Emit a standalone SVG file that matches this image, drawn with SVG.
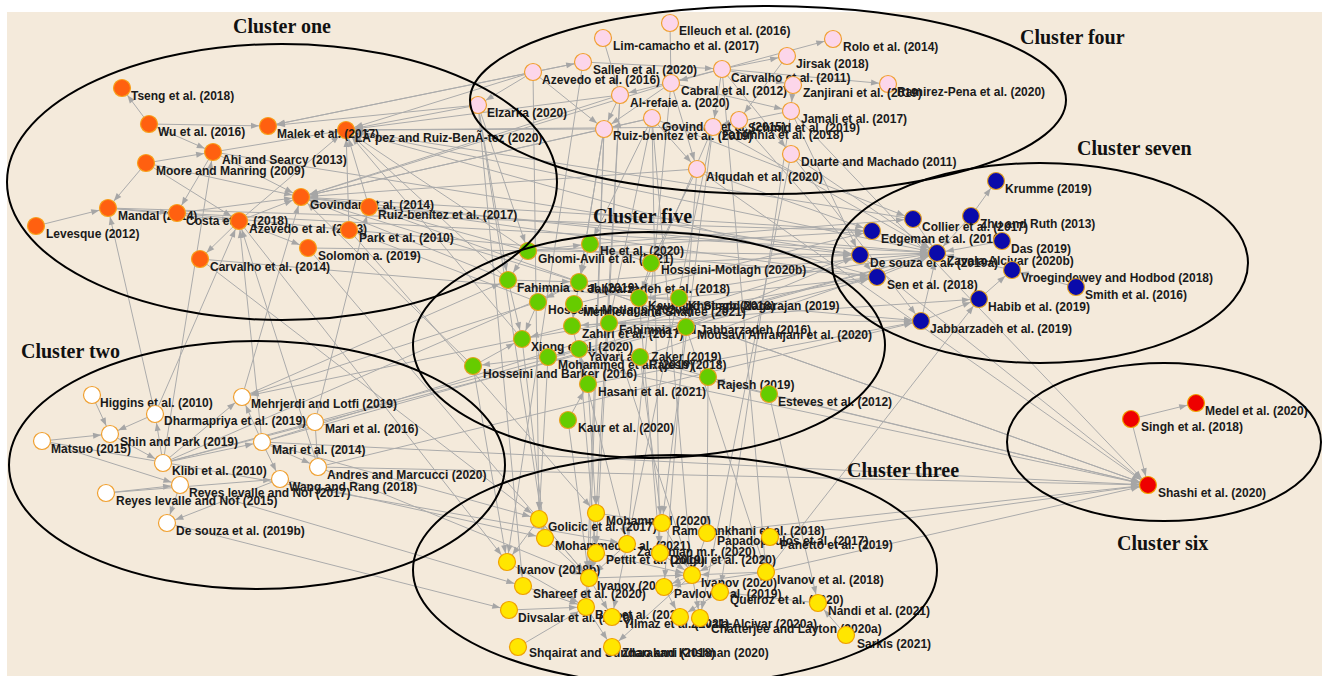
<svg xmlns="http://www.w3.org/2000/svg" width="1322" height="676" viewBox="0 0 1322 676">
<style>
.e line{stroke:#ababab;stroke-width:1;marker-end:url(#ah)}
.n circle{stroke-width:1.2}
.n text{font-family:"Liberation Sans",Arial,sans-serif;font-weight:bold;font-size:12px;fill:#1a1a1a}
.c1 circle{fill:#FF6010;stroke:#F7A11B}
.c2 circle{fill:#FFFFFF;stroke:#F0A030}
.c3 circle{fill:#FFE600;stroke:#F0A000}
.c4 circle{fill:#FCD6EA;stroke:#F0A030}
.c5 circle{fill:#66CC00;stroke:#E8A020}
.c6 circle{fill:#EE0000;stroke:#F0A000}
.c7 circle{fill:#0A0AAA;stroke:#E0A020}
.cl ellipse{fill:none;stroke:#000;stroke-width:2}
.t{font-family:"Liberation Serif","Times New Roman",serif;font-weight:bold;font-size:20px;fill:#111}
</style>
<defs>
<marker id="ah" markerUnits="userSpaceOnUse" markerWidth="8" markerHeight="6" refX="17" refY="3" orient="auto" overflow="visible"><path d="M0,0L8,3L0,6z" fill="#a6a6a6"/></marker>
</defs>
<rect width="1322" height="676" fill="#fff"/>
<rect x="7" y="12" width="1315" height="664" fill="#F4EADB"/>
<g id="connectors" class="e">
<line x1="149" y1="124" x2="122" y2="88"/>
<line x1="146" y1="163" x2="213" y2="152"/>
<line x1="146" y1="163" x2="108" y2="208"/>
<line x1="36" y1="226" x2="108" y2="208"/>
<line x1="108" y1="208" x2="177" y2="213"/>
<line x1="213" y1="152" x2="177" y2="213"/>
<line x1="146" y1="163" x2="239" y2="221"/>
<line x1="146" y1="163" x2="301" y2="197"/>
<line x1="239" y1="221" x2="200" y2="259"/>
<line x1="239" y1="221" x2="308" y2="248"/>
<line x1="239" y1="221" x2="301" y2="197"/>
<line x1="239" y1="221" x2="346" y2="130"/>
<line x1="213" y1="152" x2="346" y2="130"/>
<line x1="149" y1="124" x2="268" y2="126"/>
<line x1="177" y1="213" x2="301" y2="197"/>
<line x1="349" y1="230" x2="346" y2="130"/>
<line x1="369" y1="207" x2="346" y2="130"/>
<line x1="149" y1="124" x2="213" y2="152"/>
<line x1="108" y1="208" x2="239" y2="221"/>
<line x1="177" y1="213" x2="349" y2="230"/>
<line x1="213" y1="152" x2="301" y2="197"/>
<line x1="155" y1="414" x2="108" y2="208"/>
<line x1="163" y1="463" x2="213" y2="152"/>
<line x1="155" y1="414" x2="239" y2="221"/>
<line x1="262" y1="442" x2="239" y2="221"/>
<line x1="318" y1="467" x2="239" y2="221"/>
<line x1="315" y1="422" x2="369" y2="207"/>
<line x1="242" y1="397" x2="301" y2="197"/>
<line x1="478" y1="105" x2="268" y2="126"/>
<line x1="533" y1="72" x2="268" y2="126"/>
<line x1="478" y1="105" x2="346" y2="130"/>
<line x1="604" y1="129" x2="346" y2="130"/>
<line x1="620" y1="95" x2="346" y2="130"/>
<line x1="652" y1="118" x2="301" y2="197"/>
<line x1="604" y1="129" x2="301" y2="197"/>
<line x1="671" y1="83" x2="301" y2="197"/>
<line x1="620" y1="95" x2="301" y2="197"/>
<line x1="583" y1="62" x2="268" y2="126"/>
<line x1="713" y1="127" x2="346" y2="130"/>
<line x1="697" y1="169" x2="301" y2="197"/>
<line x1="533" y1="72" x2="346" y2="130"/>
<line x1="528" y1="251" x2="346" y2="130"/>
<line x1="508" y1="280" x2="346" y2="130"/>
<line x1="522" y1="339" x2="346" y2="130"/>
<line x1="508" y1="280" x2="301" y2="197"/>
<line x1="579" y1="282" x2="301" y2="197"/>
<line x1="473" y1="366" x2="301" y2="197"/>
<line x1="528" y1="251" x2="369" y2="207"/>
<line x1="538" y1="302" x2="349" y2="230"/>
<line x1="860" y1="255" x2="301" y2="197"/>
<line x1="872" y1="231" x2="301" y2="197"/>
<line x1="877" y1="277" x2="346" y2="130"/>
<line x1="913" y1="219" x2="346" y2="130"/>
<line x1="369" y1="207" x2="937" y2="253"/>
<line x1="349" y1="230" x2="877" y2="277"/>
<line x1="308" y1="248" x2="860" y2="255"/>
<line x1="200" y1="259" x2="921" y2="321"/>
<line x1="177" y1="213" x2="937" y2="253"/>
<line x1="308" y1="248" x2="589" y2="578"/>
<line x1="200" y1="259" x2="539" y2="519"/>
<line x1="349" y1="230" x2="596" y2="513"/>
<line x1="369" y1="207" x2="1148" y2="485"/>
<line x1="239" y1="221" x2="507" y2="562"/>
<line x1="533" y1="72" x2="583" y2="62"/>
<line x1="533" y1="72" x2="478" y2="105"/>
<line x1="722" y1="69" x2="787" y2="56"/>
<line x1="722" y1="69" x2="833" y2="39"/>
<line x1="722" y1="69" x2="671" y2="83"/>
<line x1="722" y1="69" x2="793" y2="85"/>
<line x1="722" y1="69" x2="888" y2="84"/>
<line x1="793" y1="85" x2="791" y2="111"/>
<line x1="670" y1="23" x2="671" y2="83"/>
<line x1="583" y1="62" x2="722" y2="69"/>
<line x1="603" y1="38" x2="620" y2="95"/>
<line x1="722" y1="69" x2="620" y2="95"/>
<line x1="620" y1="95" x2="604" y2="129"/>
<line x1="671" y1="83" x2="604" y2="129"/>
<line x1="652" y1="118" x2="604" y2="129"/>
<line x1="722" y1="69" x2="713" y2="127"/>
<line x1="787" y1="56" x2="739" y2="120"/>
<line x1="671" y1="83" x2="791" y2="111"/>
<line x1="722" y1="69" x2="791" y2="154"/>
<line x1="652" y1="118" x2="697" y2="169"/>
<line x1="533" y1="72" x2="604" y2="129"/>
<line x1="739" y1="120" x2="713" y2="127"/>
<line x1="791" y1="111" x2="713" y2="127"/>
<line x1="671" y1="83" x2="697" y2="169"/>
<line x1="791" y1="154" x2="937" y2="253"/>
<line x1="791" y1="111" x2="860" y2="255"/>
<line x1="713" y1="127" x2="937" y2="253"/>
<line x1="697" y1="169" x2="872" y2="231"/>
<line x1="652" y1="118" x2="913" y2="219"/>
<line x1="739" y1="120" x2="877" y2="277"/>
<line x1="604" y1="129" x2="579" y2="282"/>
<line x1="652" y1="118" x2="590" y2="244"/>
<line x1="697" y1="169" x2="651" y2="263"/>
<line x1="604" y1="129" x2="589" y2="578"/>
<line x1="652" y1="118" x2="692" y2="575"/>
<line x1="620" y1="95" x2="596" y2="513"/>
<line x1="713" y1="127" x2="662" y2="523"/>
<line x1="697" y1="169" x2="664" y2="587"/>
<line x1="671" y1="83" x2="627" y2="544"/>
<line x1="533" y1="72" x2="539" y2="519"/>
<line x1="478" y1="105" x2="545" y2="538"/>
<line x1="604" y1="129" x2="586" y2="607"/>
<line x1="652" y1="118" x2="660" y2="553"/>
<line x1="722" y1="69" x2="766" y2="572"/>
<line x1="791" y1="111" x2="720" y2="592"/>
<line x1="791" y1="154" x2="700" y2="618"/>
<line x1="620" y1="95" x2="596" y2="553"/>
<line x1="583" y1="62" x2="507" y2="562"/>
<line x1="478" y1="105" x2="523" y2="586"/>
<line x1="713" y1="127" x2="612" y2="617"/>
<line x1="697" y1="169" x2="1148" y2="485"/>
<line x1="791" y1="111" x2="1148" y2="485"/>
<line x1="791" y1="154" x2="921" y2="321"/>
<line x1="652" y1="118" x2="609" y2="323"/>
<line x1="604" y1="129" x2="572" y2="326"/>
<line x1="713" y1="127" x2="639" y2="298"/>
<line x1="478" y1="105" x2="528" y2="251"/>
<line x1="478" y1="105" x2="508" y2="280"/>
<line x1="590" y1="244" x2="579" y2="282"/>
<line x1="528" y1="251" x2="508" y2="280"/>
<line x1="651" y1="263" x2="639" y2="298"/>
<line x1="579" y1="282" x2="538" y2="302"/>
<line x1="508" y1="280" x2="522" y2="339"/>
<line x1="538" y1="302" x2="522" y2="339"/>
<line x1="572" y1="326" x2="522" y2="339"/>
<line x1="574" y1="304" x2="572" y2="326"/>
<line x1="609" y1="323" x2="572" y2="326"/>
<line x1="579" y1="349" x2="548" y2="357"/>
<line x1="588" y1="384" x2="579" y2="349"/>
<line x1="568" y1="420" x2="588" y2="384"/>
<line x1="708" y1="377" x2="640" y2="357"/>
<line x1="769" y1="394" x2="708" y2="377"/>
<line x1="686" y1="327" x2="609" y2="323"/>
<line x1="679" y1="298" x2="639" y2="298"/>
<line x1="473" y1="366" x2="522" y2="339"/>
<line x1="528" y1="251" x2="590" y2="244"/>
<line x1="508" y1="280" x2="579" y2="282"/>
<line x1="651" y1="263" x2="590" y2="244"/>
<line x1="548" y1="357" x2="473" y2="366"/>
<line x1="579" y1="282" x2="937" y2="253"/>
<line x1="651" y1="263" x2="860" y2="255"/>
<line x1="639" y1="298" x2="937" y2="253"/>
<line x1="679" y1="298" x2="877" y2="277"/>
<line x1="686" y1="327" x2="860" y2="255"/>
<line x1="609" y1="323" x2="921" y2="321"/>
<line x1="572" y1="326" x2="979" y2="299"/>
<line x1="574" y1="304" x2="872" y2="231"/>
<line x1="640" y1="357" x2="937" y2="253"/>
<line x1="522" y1="339" x2="877" y2="277"/>
<line x1="588" y1="384" x2="921" y2="321"/>
<line x1="528" y1="251" x2="872" y2="231"/>
<line x1="590" y1="244" x2="913" y2="219"/>
<line x1="579" y1="282" x2="1148" y2="485"/>
<line x1="579" y1="349" x2="1148" y2="485"/>
<line x1="769" y1="394" x2="1148" y2="485"/>
<line x1="548" y1="357" x2="1148" y2="485"/>
<line x1="588" y1="384" x2="596" y2="513"/>
<line x1="568" y1="420" x2="589" y2="578"/>
<line x1="579" y1="349" x2="596" y2="553"/>
<line x1="640" y1="357" x2="662" y2="523"/>
<line x1="548" y1="357" x2="539" y2="519"/>
<line x1="522" y1="339" x2="545" y2="538"/>
<line x1="473" y1="366" x2="507" y2="562"/>
<line x1="609" y1="323" x2="692" y2="575"/>
<line x1="572" y1="326" x2="627" y2="544"/>
<line x1="708" y1="377" x2="707" y2="533"/>
<line x1="686" y1="327" x2="766" y2="572"/>
<line x1="769" y1="394" x2="818" y2="603"/>
<line x1="639" y1="298" x2="660" y2="553"/>
<line x1="92" y1="395" x2="110" y2="434"/>
<line x1="155" y1="414" x2="110" y2="434"/>
<line x1="42" y1="441" x2="110" y2="434"/>
<line x1="163" y1="463" x2="155" y2="414"/>
<line x1="163" y1="463" x2="262" y2="442"/>
<line x1="163" y1="463" x2="242" y2="397"/>
<line x1="262" y1="442" x2="242" y2="397"/>
<line x1="262" y1="442" x2="280" y2="479"/>
<line x1="262" y1="442" x2="318" y2="467"/>
<line x1="106" y1="493" x2="180" y2="485"/>
<line x1="180" y1="485" x2="167" y2="523"/>
<line x1="106" y1="493" x2="280" y2="479"/>
<line x1="280" y1="479" x2="167" y2="523"/>
<line x1="315" y1="422" x2="318" y2="467"/>
<line x1="110" y1="434" x2="163" y2="463"/>
<line x1="42" y1="441" x2="180" y2="485"/>
<line x1="163" y1="463" x2="315" y2="422"/>
<line x1="262" y1="442" x2="860" y2="255"/>
<line x1="262" y1="442" x2="937" y2="253"/>
<line x1="163" y1="463" x2="877" y2="277"/>
<line x1="315" y1="422" x2="937" y2="253"/>
<line x1="242" y1="397" x2="508" y2="280"/>
<line x1="318" y1="467" x2="921" y2="321"/>
<line x1="163" y1="463" x2="579" y2="282"/>
<line x1="262" y1="442" x2="539" y2="519"/>
<line x1="318" y1="467" x2="589" y2="578"/>
<line x1="280" y1="479" x2="545" y2="538"/>
<line x1="262" y1="442" x2="1148" y2="485"/>
<line x1="318" y1="467" x2="1148" y2="485"/>
<line x1="538" y1="302" x2="242" y2="397"/>
<line x1="522" y1="339" x2="242" y2="397"/>
<line x1="42" y1="441" x2="627" y2="544"/>
<line x1="167" y1="523" x2="509" y2="610"/>
<line x1="180" y1="485" x2="523" y2="586"/>
<line x1="596" y1="513" x2="589" y2="578"/>
<line x1="539" y1="519" x2="589" y2="578"/>
<line x1="545" y1="538" x2="589" y2="578"/>
<line x1="662" y1="523" x2="692" y2="575"/>
<line x1="707" y1="533" x2="692" y2="575"/>
<line x1="770" y1="537" x2="692" y2="575"/>
<line x1="627" y1="544" x2="589" y2="578"/>
<line x1="596" y1="553" x2="589" y2="578"/>
<line x1="660" y1="553" x2="692" y2="575"/>
<line x1="507" y1="562" x2="586" y2="607"/>
<line x1="523" y1="586" x2="586" y2="607"/>
<line x1="509" y1="610" x2="586" y2="607"/>
<line x1="589" y1="578" x2="586" y2="607"/>
<line x1="692" y1="575" x2="664" y2="587"/>
<line x1="766" y1="572" x2="692" y2="575"/>
<line x1="720" y1="592" x2="680" y2="617"/>
<line x1="664" y1="587" x2="680" y2="617"/>
<line x1="692" y1="575" x2="700" y2="618"/>
<line x1="846" y1="635" x2="818" y2="603"/>
<line x1="518" y1="647" x2="586" y2="607"/>
<line x1="692" y1="575" x2="612" y2="647"/>
<line x1="586" y1="607" x2="612" y2="647"/>
<line x1="589" y1="578" x2="612" y2="617"/>
<line x1="539" y1="519" x2="507" y2="562"/>
<line x1="596" y1="513" x2="662" y2="523"/>
<line x1="545" y1="538" x2="539" y2="519"/>
<line x1="589" y1="578" x2="692" y2="575"/>
<line x1="596" y1="553" x2="692" y2="575"/>
<line x1="818" y1="603" x2="720" y2="592"/>
<line x1="766" y1="572" x2="664" y2="587"/>
<line x1="770" y1="537" x2="1148" y2="485"/>
<line x1="707" y1="533" x2="1148" y2="485"/>
<line x1="766" y1="572" x2="1148" y2="485"/>
<line x1="921" y1="321" x2="937" y2="253"/>
<line x1="766" y1="572" x2="979" y2="299"/>
<line x1="971" y1="216" x2="996" y2="181"/>
<line x1="1002" y1="241" x2="937" y2="253"/>
<line x1="1012" y1="270" x2="937" y2="253"/>
<line x1="1076" y1="287" x2="1012" y2="270"/>
<line x1="979" y1="299" x2="1012" y2="270"/>
<line x1="877" y1="277" x2="937" y2="253"/>
<line x1="872" y1="231" x2="937" y2="253"/>
<line x1="913" y1="219" x2="937" y2="253"/>
<line x1="860" y1="255" x2="937" y2="253"/>
<line x1="971" y1="216" x2="937" y2="253"/>
<line x1="921" y1="321" x2="979" y2="299"/>
<line x1="860" y1="255" x2="1148" y2="485"/>
<line x1="1131" y1="419" x2="1196" y2="403"/>
<line x1="1131" y1="419" x2="1148" y2="485"/>
<line x1="301" y1="197" x2="877" y2="277"/>
<line x1="346" y1="130" x2="937" y2="253"/>
<line x1="213" y1="152" x2="860" y2="255"/>
<line x1="108" y1="208" x2="872" y2="231"/>
</g>
<g id="nodes" class="n">
<g id="n-tseng" class="c1"><circle cx="122" cy="88" r="8.5"/><text x="131" y="100">Tseng et al. (2018)</text></g>
<g id="n-wu" class="c1"><circle cx="149" cy="124" r="8.5"/><text x="158" y="136">Wu et al. (2016)</text></g>
<g id="n-lopez" class="c1"><circle cx="346" cy="130" r="8.5"/><text x="355" y="142">LÃ³pez and Ruiz-BenÃ-tez (2020)</text></g>
<g id="n-malek" class="c1"><circle cx="268" cy="126" r="8.5"/><text x="277" y="138">Malek et al. (2017)</text></g>
<g id="n-ahi" class="c1"><circle cx="213" cy="152" r="8.5"/><text x="222" y="164">Ahi and Searcy (2013)</text></g>
<g id="n-moore" class="c1"><circle cx="146" cy="163" r="8.5"/><text x="156" y="175">Moore and Manring (2009)</text></g>
<g id="n-gov14" class="c1"><circle cx="301" cy="197" r="8.5"/><text x="310" y="209">Govindan et al. (2014)</text></g>
<g id="n-ruiz17" class="c1"><circle cx="369" cy="207" r="8.5"/><text x="378" y="219">Ruiz-benitez et al. (2017)</text></g>
<g id="n-mandal" class="c1"><circle cx="108" cy="208" r="8.5"/><text x="118" y="220">Mandal (2014)</text></g>
<g id="n-costa" class="c1"><circle cx="177" cy="213" r="8.5"/><text x="186" y="225">Costa et al. (2018)</text></g>
<g id="n-aze13" class="c1"><circle cx="239" cy="221" r="8.5"/><text x="249" y="233">Azevedo et al. (2013)</text></g>
<g id="n-park" class="c1"><circle cx="349" cy="230" r="8.5"/><text x="359" y="242">Park et al. (2010)</text></g>
<g id="n-leves" class="c1"><circle cx="36" cy="226" r="8.5"/><text x="46" y="238">Levesque (2012)</text></g>
<g id="n-solo" class="c1"><circle cx="308" cy="248" r="8.5"/><text x="318" y="260">Solomon a. (2019)</text></g>
<g id="n-carv14" class="c1"><circle cx="200" cy="259" r="8.5"/><text x="210" y="271">Carvalho et al. (2014)</text></g>

<g id="n-elleuch" class="c4"><circle cx="670" cy="23" r="8.5"/><text x="679" y="35">Elleuch et al. (2016)</text></g>
<g id="n-limc" class="c4"><circle cx="603" cy="38" r="8.5"/><text x="613" y="50">Lim-camacho et al. (2017)</text></g>
<g id="n-rolo" class="c4"><circle cx="833" cy="39" r="8.5"/><text x="843" y="51">Rolo et al. (2014)</text></g>
<g id="n-jirsak" class="c4"><circle cx="787" cy="56" r="8.5"/><text x="796" y="68">Jirsak (2018)</text></g>
<g id="n-salleh" class="c4"><circle cx="583" cy="62" r="8.5"/><text x="593" y="74">Salleh et al. (2020)</text></g>
<g id="n-aze16" class="c4"><circle cx="533" cy="72" r="8.5"/><text x="542" y="84">Azevedo et al. (2016)</text></g>
<g id="n-carv11" class="c4"><circle cx="722" cy="69" r="8.5"/><text x="731" y="82">Carvalho et al. (2011)</text></g>
<g id="n-cabral" class="c4"><circle cx="671" cy="83" r="8.5"/><text x="681" y="95">Cabral et al. (2012)</text></g>
<g id="n-ramirez" class="c4"><circle cx="888" cy="84" r="8.5"/><text x="897" y="96">Ramirez-Pena et al. (2020)</text></g>
<g id="n-zanj" class="c4"><circle cx="793" cy="85" r="8.5"/><text x="803" y="97">Zanjirani et al. (2019)</text></g>
<g id="n-alref" class="c4"><circle cx="620" cy="95" r="8.5"/><text x="630" y="107">Al-refaie a. (2020)</text></g>
<g id="n-elzarka" class="c4"><circle cx="478" cy="105" r="8.5"/><text x="487" y="117">Elzarka (2020)</text></g>
<g id="n-jamali" class="c4"><circle cx="791" cy="111" r="8.5"/><text x="801" y="123">Jamali et al. (2017)</text></g>
<g id="n-gov15" class="c4"><circle cx="652" cy="118" r="8.5"/><text x="662" y="131">Govindan et al. (2015)</text></g>
<g id="n-ruiz19" class="c4"><circle cx="604" cy="129" r="8.5"/><text x="613" y="140">Ruiz-benitez et al. (2019)</text></g>
<g id="n-fah18" class="c4"><circle cx="713" cy="127" r="8.5"/><text x="722" y="139">Fahimnia et al. (2018)</text></g>
<g id="n-s19" class="c4"><circle cx="739" cy="120" r="8.5"/><text x="748" y="132">Schmid et al. (2019)</text></g>
<g id="n-duarte" class="c4"><circle cx="791" cy="154" r="8.5"/><text x="801" y="166">Duarte and Machado (2011)</text></g>
<g id="n-alqudah" class="c4"><circle cx="697" cy="169" r="8.5"/><text x="706" y="181">Alqudah et al. (2020)</text></g>

<g id="n-krumme" class="c7"><circle cx="996" cy="181" r="8.5"/><text x="1005" y="193">Krumme (2019)</text></g>
<g id="n-zhu" class="c7"><circle cx="971" cy="216" r="8.5"/><text x="980" y="228">Zhu and Ruth (2013)</text></g>
<g id="n-collier" class="c7"><circle cx="913" cy="219" r="8.5"/><text x="922" y="231">Collier et al. (2017)</text></g>
<g id="n-edgeman" class="c7"><circle cx="872" cy="231" r="8.5"/><text x="881" y="243">Edgeman et al. (2016)</text></g>
<g id="n-das" class="c7"><circle cx="1002" cy="241" r="8.5"/><text x="1011" y="253">Das (2019)</text></g>
<g id="n-desz19a" class="c7"><circle cx="860" cy="255" r="8.5"/><text x="870" y="267">De souza et al. (2019a)</text></g>
<g id="n-zav20b" class="c7"><circle cx="937" cy="253" r="8.5"/><text x="947" y="265">Zavala-Alcivar (2020b)</text></g>
<g id="n-vroeg" class="c7"><circle cx="1012" cy="270" r="8.5"/><text x="1021" y="282">Vroegindewey and Hodbod (2018)</text></g>
<g id="n-sen" class="c7"><circle cx="877" cy="277" r="8.5"/><text x="887" y="289">Sen et al. (2018)</text></g>
<g id="n-smith" class="c7"><circle cx="1076" cy="287" r="8.5"/><text x="1085" y="299">Smith et al. (2016)</text></g>
<g id="n-habib" class="c7"><circle cx="979" cy="299" r="8.5"/><text x="988" y="311">Habib et al. (2019)</text></g>
<g id="n-jab19" class="c7"><circle cx="921" cy="321" r="8.5"/><text x="930" y="333">Jabbarzadeh et al. (2019)</text></g>

<g id="n-ghomi" class="c5"><circle cx="528" cy="251" r="8.5"/><text x="538" y="263">Ghomi-Avili et al. (2021)</text></g>
<g id="n-he" class="c5"><circle cx="590" cy="244" r="8.5"/><text x="600" y="255">He et al. (2020)</text></g>
<g id="n-hm20b" class="c5"><circle cx="651" cy="263" r="8.5"/><text x="661" y="274">Hosseini-Motlagh (2020b)</text></g>
<g id="n-fah19" class="c5"><circle cx="508" cy="280" r="8.5"/><text x="517" y="292">Fahimnia et al. (2019)</text></g>
<g id="n-jab18" class="c5"><circle cx="579" cy="282" r="8.5"/><text x="588" y="293">Jabbarzadeh et al. (2018)</text></g>
<g id="n-hm20a" class="c5"><circle cx="538" cy="302" r="8.5"/><text x="548" y="314">Hosseini-Motlagh (2020a)</text></g>
<g id="n-kaurs" class="c5"><circle cx="639" cy="298" r="8.5"/><text x="648" y="310">Kaur and Singh (2018)</text></g>
<g id="n-khot" class="c5"><circle cx="679" cy="298" r="8.5"/><text x="688" y="310">Khot and Nagarajan (2019)</text></g>
<g id="n-mehr21" class="c5"><circle cx="574" cy="304" r="8.5"/><text x="583" y="316">Mehrjerdi and Shafiee (2021)</text></g>
<g id="n-zahiri" class="c5"><circle cx="572" cy="326" r="8.5"/><text x="582" y="338">Zahiri et al. (2017)</text></g>
<g id="n-fj16" class="c5"><circle cx="609" cy="323" r="8.5"/><text x="619" y="334">Fahimnia and Jabbarzadeh (2016)</text></g>
<g id="n-mousavi" class="c5"><circle cx="686" cy="327" r="8.5"/><text x="697" y="339">Mousavi Ahranjani et al. (2020)</text></g>
<g id="n-xiong" class="c5"><circle cx="522" cy="339" r="8.5"/><text x="531" y="351">Xiong et al. (2020)</text></g>
<g id="n-moh19" class="c5"><circle cx="548" cy="357" r="8.5"/><text x="558" y="369">Mohammed et al. (2019)</text></g>
<g id="n-yavari" class="c5"><circle cx="579" cy="349" r="8.5"/><text x="588" y="361">Yavari and Zaker (2019)</text></g>
<g id="n-raj18" class="c5"><circle cx="640" cy="357" r="8.5"/><text x="649" y="369">Rajesh (2018)</text></g>
<g id="n-hb16" class="c5"><circle cx="473" cy="366" r="8.5"/><text x="483" y="378">Hosseini and Barker (2016)</text></g>
<g id="n-hasani" class="c5"><circle cx="588" cy="384" r="8.5"/><text x="598" y="396">Hasani et al. (2021)</text></g>
<g id="n-raj19" class="c5"><circle cx="708" cy="377" r="8.5"/><text x="717" y="389">Rajesh (2019)</text></g>
<g id="n-esteves" class="c5"><circle cx="769" cy="394" r="8.5"/><text x="778" y="406">Esteves et al. (2012)</text></g>
<g id="n-kaur20" class="c5"><circle cx="568" cy="420" r="8.5"/><text x="578" y="432">Kaur et al. (2020)</text></g>

<g id="n-higgins" class="c2"><circle cx="92" cy="395" r="8.5"/><text x="100" y="407">Higgins et al. (2010)</text></g>
<g id="n-mehr19" class="c2"><circle cx="242" cy="397" r="8.5"/><text x="251" y="408">Mehrjerdi and Lotfi (2019)</text></g>
<g id="n-dharma" class="c2"><circle cx="155" cy="414" r="8.5"/><text x="164" y="425">Dharmapriya et al. (2019)</text></g>
<g id="n-mari16" class="c2"><circle cx="315" cy="422" r="8.5"/><text x="325" y="433">Mari et al. (2016)</text></g>
<g id="n-shin" class="c2"><circle cx="110" cy="434" r="8.5"/><text x="120" y="446">Shin and Park (2019)</text></g>
<g id="n-matsuo" class="c2"><circle cx="42" cy="441" r="8.5"/><text x="51" y="453">Matsuo (2015)</text></g>
<g id="n-mari14" class="c2"><circle cx="262" cy="442" r="8.5"/><text x="272" y="454">Mari et al. (2014)</text></g>
<g id="n-klibi" class="c2"><circle cx="163" cy="463" r="8.5"/><text x="172" y="475">Klibi et al. (2010)</text></g>
<g id="n-andres" class="c2"><circle cx="318" cy="467" r="8.5"/><text x="327" y="479">Andres and Marcucci (2020)</text></g>
<g id="n-reyes17" class="c2"><circle cx="180" cy="485" r="8.5"/><text x="189" y="497">Reyes levalle and Nof (2017)</text></g>
<g id="n-wang" class="c2"><circle cx="280" cy="479" r="8.5"/><text x="289" y="491">Wang and Rang (2018)</text></g>
<g id="n-reyes15" class="c2"><circle cx="106" cy="493" r="8.5"/><text x="116" y="505">Reyes levalle and Nof (2015)</text></g>
<g id="n-desz19b" class="c2"><circle cx="167" cy="523" r="8.5"/><text x="176" y="535">De souza et al. (2019b)</text></g>

<g id="n-golicic" class="c3"><circle cx="539" cy="519" r="8.5"/><text x="548" y="531">Golicic et al. (2017)</text></g>
<g id="n-mohammad" class="c3"><circle cx="596" cy="513" r="8.5"/><text x="606" y="525">Mohammad (2020)</text></g>
<g id="n-ramez" class="c3"><circle cx="662" cy="523" r="8.5"/><text x="672" y="535">Ramezankhani et al. (2018)</text></g>
<g id="n-papa" class="c3"><circle cx="707" cy="533" r="8.5"/><text x="717" y="545">Papadopoulos et al. (2017)</text></g>
<g id="n-panetto" class="c3"><circle cx="770" cy="537" r="8.5"/><text x="780" y="549">Panetto et al. (2019)</text></g>
<g id="n-moh21" class="c3"><circle cx="545" cy="538" r="8.5"/><text x="555" y="550">Mohammed et al. (2021)</text></g>
<g id="n-zaman" class="c3"><circle cx="627" cy="544" r="8.5"/><text x="637" y="556">Zamanian m.r. (2020)</text></g>
<g id="n-pettit" class="c3"><circle cx="596" cy="553" r="8.5"/><text x="606" y="564">Pettit et al. (2019)</text></g>
<g id="n-dolgui" class="c3"><circle cx="660" cy="553" r="8.5"/><text x="670" y="564">Dolgui et al. (2020)</text></g>
<g id="n-iv18b" class="c3"><circle cx="507" cy="562" r="8.5"/><text x="517" y="574">Ivanov (2018b)</text></g>
<g id="n-iv20" class="c3"><circle cx="692" cy="575" r="8.5"/><text x="701" y="587">Ivanov (2020)</text></g>
<g id="n-iv18e" class="c3"><circle cx="766" cy="572" r="8.5"/><text x="777" y="584">Ivanov et al. (2018)</text></g>
<g id="n-iv18" class="c3"><circle cx="589" cy="578" r="8.5"/><text x="597" y="590">Ivanov (2018)</text></g>
<g id="n-shareef" class="c3"><circle cx="523" cy="586" r="8.5"/><text x="533" y="598">Shareef et al. (2020)</text></g>
<g id="n-pavlov" class="c3"><circle cx="664" cy="587" r="8.5"/><text x="674" y="598">Pavlov et al. (2019)</text></g>
<g id="n-queiroz" class="c3"><circle cx="720" cy="592" r="8.5"/><text x="730" y="604">Queiroz et al. (2020)</text></g>
<g id="n-nandi" class="c3"><circle cx="818" cy="603" r="8.5"/><text x="828" y="615">Nandi et al. (2021)</text></g>
<g id="n-divsalar" class="c3"><circle cx="509" cy="610" r="8.5"/><text x="518" y="622">Divsalar et al. (2020)</text></g>
<g id="n-bier" class="c3"><circle cx="586" cy="607" r="8.5"/><text x="595" y="619">Bier et al. (2020)</text></g>
<g id="n-yilmaz" class="c3"><circle cx="612" cy="617" r="8.5"/><text x="623" y="628">Yilmaz et al. (2021)</text></g>
<g id="n-zav20a" class="c3"><circle cx="680" cy="617" r="8.5"/><text x="691" y="628">Zavala-Alcivar (2020a)</text></g>
<g id="n-chatt" class="c3"><circle cx="700" cy="618" r="8.5"/><text x="711" y="633">Chatterjee and Layton (2020a)</text></g>
<g id="n-sarkis" class="c3"><circle cx="846" cy="635" r="8.5"/><text x="857" y="648">Sarkis (2021)</text></g>
<g id="n-shq" class="c3"><circle cx="518" cy="647" r="8.5"/><text x="529" y="657">Shqairat and Sundarakani (2018)</text></g>
<g id="n-zhao" class="c3"><circle cx="612" cy="647" r="8.5"/><text x="622" y="657">Zhao and Krishnan (2020)</text></g>

<g id="n-medel" class="c6"><circle cx="1196" cy="403" r="8.5"/><text x="1205" y="415">Medel et al. (2020)</text></g>
<g id="n-singh" class="c6"><circle cx="1131" cy="419" r="8.5"/><text x="1141" y="431">Singh et al. (2018)</text></g>
<g id="n-shashi" class="c6"><circle cx="1148" cy="485" r="8.5"/><text x="1158" y="497">Shashi et al. (2020)</text></g>
</g>
<g id="clusters" class="cl">
<ellipse cx="282" cy="182" rx="275" ry="138"/>
<ellipse cx="768" cy="100" rx="298" ry="94"/>
<ellipse cx="1040" cy="263" rx="208" ry="100"/>
<ellipse cx="649" cy="345" rx="236" ry="113"/>
<ellipse cx="257" cy="465" rx="248" ry="124"/>
<ellipse cx="675" cy="570" rx="262" ry="115"/>
<ellipse cx="1164" cy="442" rx="157" ry="79"/>
</g>
<g id="titles">
<text class="t" x="233" y="33">Cluster one</text>
<text class="t" x="1020" y="44">Cluster four</text>
<text class="t" x="1077" y="155">Cluster seven</text>
<text class="t" x="593" y="223">Cluster five</text>
<text class="t" x="21" y="358">Cluster two</text>
<text class="t" x="847" y="477">Cluster three</text>
<text class="t" x="1117" y="550">Cluster six</text>
</g>
</svg>
